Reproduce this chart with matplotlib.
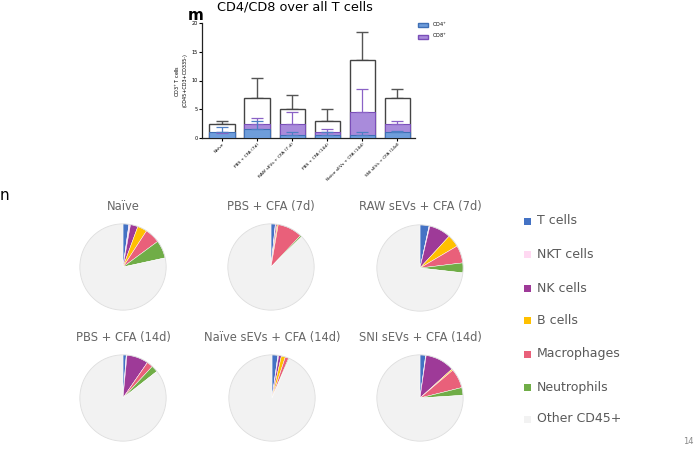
import numpy as np
import matplotlib
matplotlib.use("Agg")
import matplotlib.pyplot as plt
from matplotlib.patches import Patch

# Datos del panel m (barras superpuestas)
grupos_barras = ['Naïve', 'PBS + CFA (7d)', 'RAW sEVs + CFA (7 d)',
                 'PBS + CFA (14d)', 'Naïve sEVs + CFA (14d)', 'SNI sEVs + CFA (14d)']
total_cd3 = [2.5, 7.0, 5.0, 3.0, 13.5, 7.0]
total_err = [0.5, 3.5, 2.5, 2.0, 5.0, 1.5]
cd8 = [0.8, 2.5, 2.5, 1.0, 4.5, 2.5]
cd8_err = [0.3, 1.0, 2.0, 0.5, 4.0, 0.5]
cd4 = [1.0, 1.5, 0.5, 0.5, 0.5, 1.0]
cd4_err = [1.0, 1.5, 0.5, 0.5, 0.5, 0.3]

# Datos del panel n (tortas)
tipos_celula = ['T cells', 'NKT cells', 'NK cells', 'B cells',
                'Macrophages', 'Neutrophils', 'Other CD45+']
titulos_tortas = ['Naïve', 'PBS + CFA (7d)', 'RAW sEVs + CFA (7d)',
                  'PBS + CFA (14d)', 'Naïve sEVs + CFA (14d)', 'SNI sEVs + CFA (14d)']
frac_naive = [2.2, 0.6, 2.8, 3.6, 5.7, 6.7, 78.4]
frac_pbs7 = [1.6, 0.2, 0.5, 0.4, 9.3, 0.6, 87.4]
frac_raw7 = [3.4, 0.3, 8.1, 4.7, 6.6, 3.7, 73.2]
frac_pbs14 = [1.2, 0.3, 8.1, 0.0, 2.3, 2.5, 85.6]
frac_naivesev14 = [2.2, 0.3, 1.0, 1.5, 1.3, 0.3, 93.4]
frac_sni14 = [2.1, 0.2, 11.0, 0.5, 7.3, 2.9, 76.0]
fracciones = [frac_naive, frac_pbs7, frac_raw7, frac_pbs14, frac_naivesev14, frac_sni14]

colores_torta = ['#4472C4', '#FFD9F2', '#9E3A98', '#FFC000',
                 '#E9607A', '#70AD47', '#F2F2F2']

W, H = 700, 450
fig = plt.figure(figsize=(7, 4.5), dpi=100)


def px(x0, y0, w, h):
    # convierte caja en pixeles (origen arriba-izquierda) a coordenadas de figura
    return [x0 / W, 1 - (y0 + h) / H, w / W, h / H]


# Panel m
ax = fig.add_axes(px(202, 23, 213, 115))
x = np.arange(len(grupos_barras))
ancho = 0.72
ax.errorbar(x, total_cd3, yerr=[np.zeros(len(x)), total_err], fmt='none',
            ecolor='#555555', elinewidth=1.0, capsize=4, capthick=1.0, zorder=1)
ax.bar(x, total_cd3, width=ancho, color='white', edgecolor='#444444', linewidth=1.0, zorder=2)
ax.bar(x, cd8, width=ancho, color='#A98BDB', edgecolor='#7A4FB8', linewidth=0.8, zorder=3)
ax.bar(x, cd4, width=ancho, color='#6E9DDB', edgecolor='#3F6FB5', linewidth=0.8, zorder=4)
ax.errorbar(x, cd8, yerr=[np.zeros(len(x)), cd8_err], fmt='none',
            ecolor='#8A62C6', elinewidth=0.9, capsize=4, capthick=0.9, zorder=5)
ax.errorbar(x, cd4, yerr=[np.zeros(len(x)), cd4_err], fmt='none',
            ecolor='#4F7FC4', elinewidth=0.9, capsize=4, capthick=0.9, zorder=6)
ax.set_xlim(-0.57, 5.5)
ax.set_ylim(0, 20)
ax.set_yticks([0, 5, 10, 15, 20])
ax.tick_params(axis='y', labelsize=3.5, length=2, width=0.8, pad=1)
ax.tick_params(axis='x', labelsize=3.2, length=2, width=0.8, pad=1)
ax.set_xticks(x)
ax.set_xticklabels(grupos_barras, rotation=45, ha='right', rotation_mode='anchor')
for lado in ['top', 'right']:
    ax.spines[lado].set_visible(False)
for lado in ['left', 'bottom']:
    ax.spines[lado].set_linewidth(0.9)
    ax.spines[lado].set_color('#222222')
ax.set_ylabel('CD3$^{+}$ T cells\n(CD45+CD3+CD335-)', fontsize=3.5, labelpad=3)
fig.text(295 / W, 1 - 7 / H, 'CD4/CD8 over all T cells', fontsize=9.3,
         ha='center', va='center')
leyenda = [Patch(facecolor='#6E9DDB', edgecolor='#3F6FB5', label='CD4$^{+}$'),
           Patch(facecolor='#A98BDB', edgecolor='#7A4FB8', label='CD8$^{+}$')]
ax.legend(handles=leyenda, loc='upper left', bbox_to_anchor=(1.0, 1.05),
          fontsize=3.5, frameon=False, handlelength=2, handleheight=0.9,
          labelspacing=0.5, borderaxespad=0.2)

fig.text(188 / W, 1 - 15 / H, 'm', fontsize=11, fontweight='bold', ha='left', va='center')
fig.text(0 / W, 1 - 196 / H, 'n', fontsize=11, ha='left', va='center')

# Panel n
centros = [(123, 267), (271, 267), (420, 268), (123, 398), (272, 398), (420, 398)]
radio = 44
for (cx, cy), titulo, valores in zip(centros, titulos_tortas, fracciones):
    axp = fig.add_axes(px(cx - radio, cy - radio, 2 * radio, 2 * radio))
    axp.pie(valores, colors=colores_torta, startangle=90, counterclock=False,
            radius=1, wedgeprops={'linewidth': 0.3, 'edgecolor': 'white'})
    axp.add_patch(plt.Circle((0, 0), 1, fill=False, edgecolor='#DDDDDD', linewidth=0.6))
    axp.set_xlim(-1.02, 1.02)
    axp.set_ylim(-1.02, 1.02)
    axp.set_aspect('equal')
    axp.axis('off')
    fig.text(cx / W, 1 - (cy - 61) / H, titulo, fontsize=8.3, color='#666666',
             ha='center', va='center')

# Leyenda de tortas
y_leyenda = [221, 254, 288, 320, 354, 387, 419]
for nombre, color, yl in zip(tipos_celula, colores_torta, y_leyenda):
    fig.patches.append(plt.Rectangle(((524) / W, 1 - (yl + 3.5) / H), 7 / W, 7 / H,
                                     transform=fig.transFigure, facecolor=color,
                                     edgecolor='none'))
    fig.text(537 / W, 1 - yl / H, nombre, fontsize=9, color='#595959',
             ha='left', va='center')

fig.text(694 / W, 1 - 441 / H, '14', fontsize=6, color='#888888', ha='right', va='center')

fig.savefig('out.png', dpi=100)
